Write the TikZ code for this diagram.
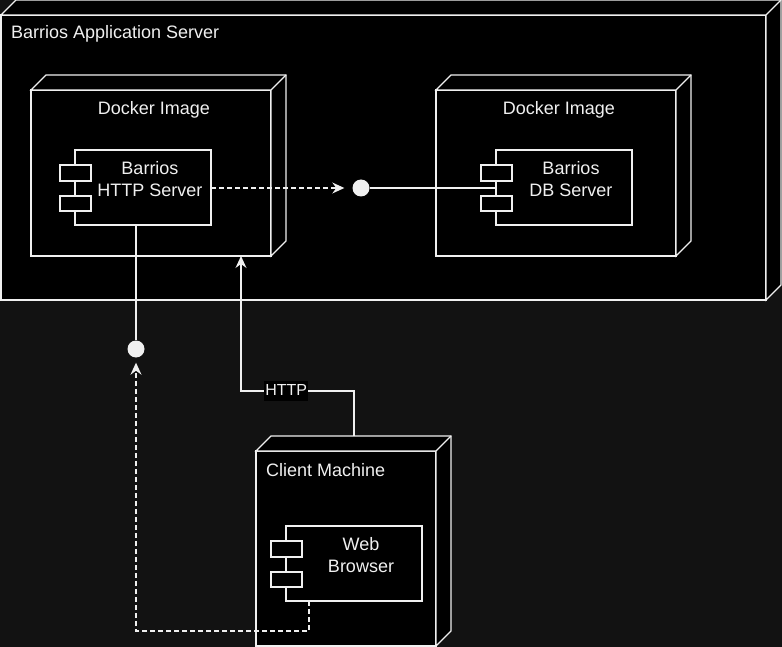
\documentclass[tikz,border=0pt]{standalone}
\usepackage{fontspec}
\setmainfont{Liberation Sans}
\usetikzlibrary{calc,arrows.meta}
\definecolor{bgdark}{HTML}{121212}
\definecolor{ink}{HTML}{F0F0F0}
\def\nodecube#1{\filldraw[wire, fill=black] (#1.north west) -- ++(15,-15) -- ($(#1.north east)+(15,-15)$) -- ($(#1.south east)+(15,-15)$) -- (#1.south east) -- (#1.north east) -- cycle; \draw[wire] (#1.north east) -- ++(15,-15);}
\def\comptabs#1{\filldraw[wire, fill=black] ([shift={(-15,15)}]#1.north west) rectangle ++(31,16); \filldraw[wire, fill=black] ([shift={(-15,46)}]#1.north west) rectangle ++(31,15);}

\begin{document}
\begin{tikzpicture}[x=1pt, y=-1pt,
		wire/.style={draw=ink, line width=1.2pt},
		nodebox/.style={wire, fill=black, anchor=north west, outer sep=0pt, inner sep=0pt},
		comp/.style={nodebox, minimum width=136, minimum height=75},
		txt/.style={text=ink, inner sep=0pt, font=\fontsize{18}{22}\selectfont},
		ball/.style={circle, fill=ink, inner sep=0pt, minimum size=17},
		flow/.style={wire, -{Stealth[length=12pt, width=11pt, inset=4pt]}},
		dashflow/.style={flow, dash pattern=on 5pt off 3pt},
		httpbox/.style={txt, fill=black, font=\fontsize{16}{19}\selectfont, inner xsep=1pt, inner ysep=0.5pt, text height=14pt, text depth=5pt}]
			%%%%% START %%%%%
			
			\fill[bgdark] (0,0) rectangle (782,647);
			\useasboundingbox (0,0) rectangle (782,647);
			
			\node[nodebox, minimum width=765, minimum height=285] (srv) at (1,15) {};
			\nodecube{srv}
			\node[txt, anchor=base west] (srvLbl) at (11,39) {Barrios Application Server};
			
			\node[nodebox, minimum width=240, minimum height=166] (imgA) at (31,90) {};
			\nodecube{imgA}
			\node[txt, anchor=base] (imgALbl) at (154,115) {Docker Image};
			
			\node[nodebox, minimum width=240, minimum height=166] (imgB) at (436,90) {};
			\nodecube{imgB}
			\node[txt, anchor=base] (imgBLbl) at (559,115) {Docker Image};
			
			\node[comp] (http) at (75,150) {};
			\comptabs{http}
			\node[txt, align=center] (httpLbl) at ([shift={(7,-8)}]http.center) {Barrios\\HTTP Server};
			
			\node[comp] (db) at (496,150) {};
			\comptabs{db}
			\node[txt, align=center] (dbLbl) at ([shift={(7,-8)}]db.center) {Barrios\\DB Server};
			
			\node[nodebox, minimum width=180, minimum height=195] (cm) at (256,451) {};
			\nodecube{cm}
			\node[txt, anchor=base west] (cmLbl) at (266,476) {Client Machine};
			
			\node[comp] (web) at (286,526) {};
			\comptabs{web}
			\node[txt, align=center] (webLbl) at ([shift={(7,-8)}]web.center) {Web\\Browser};
			
			\node[ball] (ballA) at (361,188) {};
			\node[ball] (ballB) at (136,349) {};
			
			\draw[dashflow, shorten >=8pt] (http.east |- ballA) -- (ballA.west);
			\draw[wire] (ballA.east) -- (db.west |- ballA);
			\draw[wire] (ballB.north) -- (ballB |- http.south);
			\draw[dashflow, shorten >=5pt] ([shift={(23,0)}]web.south west) -- ++(0,30) -| (ballB.south);
			
			\coordinate (cmTop) at ([shift={(98,-15)}]cm.north west);
			\coordinate (bendA) at (354,391);
			\coordinate (bendB) at (241,391);
			\draw[flow] (cmTop) -- (bendA) -- node[httpbox, pos=0.6] (httpTag) {HTTP} (bendB) -- (bendB |- imgA.south);
			
			%%%%% END %%%%%
\end{tikzpicture}
\end{document}
